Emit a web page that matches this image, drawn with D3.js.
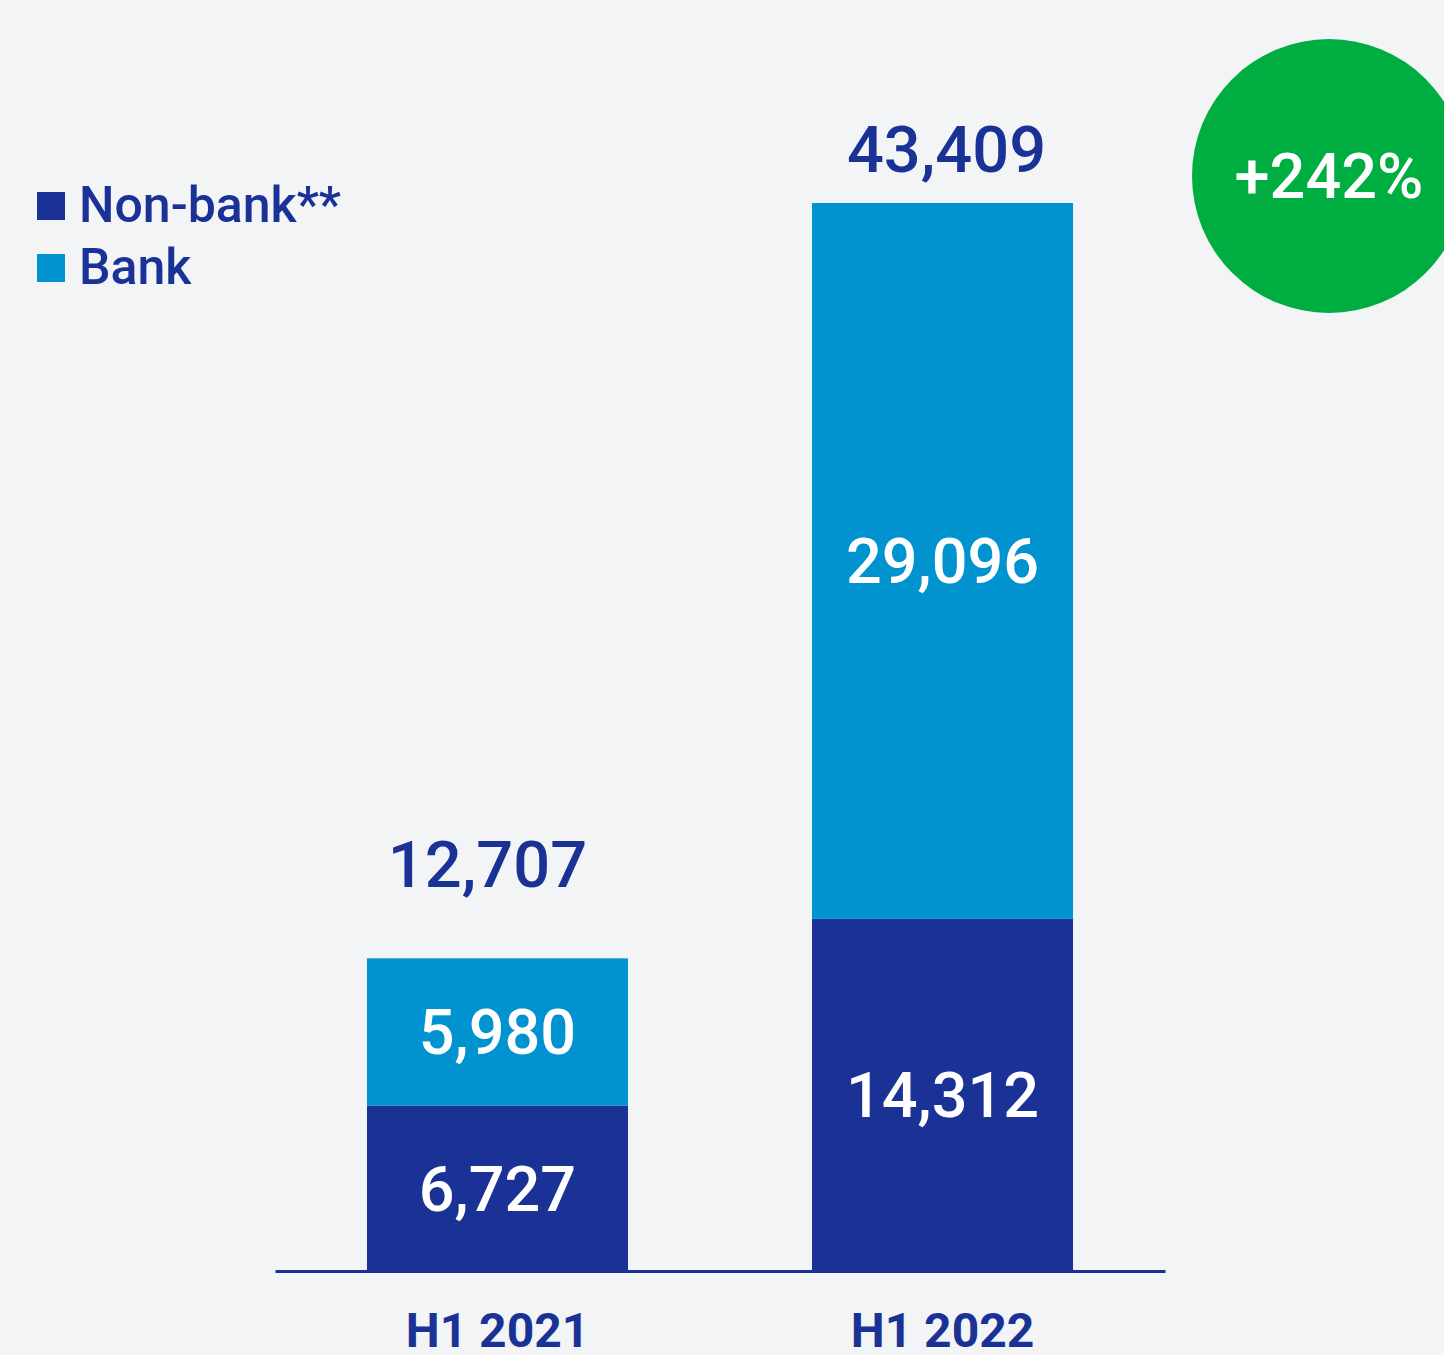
<!DOCTYPE html>
<html>
<head>
<meta charset="utf-8">
<script src="https://cdn.jsdelivr.net/npm/d3@7"></script>
<style>
  html, body { margin: 0; padding: 0; background: #f2f4f6; }
  svg { display: block; font-family: Roboto, "Noto Sans", sans-serif; }
</style>
</head>
<body>
<svg id="chart" width="1444" height="1355"></svg>
<script>
// Half-year periods and the two stacked segments (bottom first)
const periods = ["H1 2021", "H1 2022"];
const nonBank = [6727, 14312];
const bank = [5980, 29096];
// Reported totals (as published, rounded independently of the segments)
const totals = [12707, 43409];
const seriesNames = ["Non-bank**", "Bank"];
const growthLabel = "+242%";

const DARK = "#1a3296";
const LIGHT = "#0093d0";
const GREEN = "#00ad41";

const width = 1444, height = 1355;
const svg = d3.select("#chart");

svg.append("rect").attr("width", width).attr("height", height).attr("fill", "#f2f4f6");

const rows = periods.map((p, i) => ({ period: p, nonBank: nonBank[i], bank: totals[i] - nonBank[i], bankLabel: bank[i] }));

const stack = d3.stack().keys(["nonBank", "bank"]);
const layers = stack(rows);

const x = d3.scaleBand()
  .domain(periods)
  .range([275, 1165])
  .paddingInner(0.4135)
  .paddingOuter(0.2067);

const y = d3.scaleLinear()
  .domain([0, d3.max(totals)])
  .range([1271, 203]);

const colors = { nonBank: DARK, bank: LIGHT };

// Stacked bars
const g = svg.append("g");
layers.forEach(layer => {
  g.selectAll(null)
    .data(layer)
    .join("rect")
    .attr("x", d => x(d.data.period))
    .attr("width", x.bandwidth())
    .attr("y", d => y(d[1]))
    .attr("height", d => y(d[0]) - y(d[1]))
    .attr("fill", colors[layer.key]);
});

const fmt = d3.format(",");

// Segment values, centred inside each segment
const innerSize = 63;
layers.forEach(layer => {
  g.selectAll(null)
    .data(layer)
    .join("text")
    .attr("x", d => x(d.data.period) + x.bandwidth() / 2)
    .attr("y", d => (y(d[0]) + y(d[1])) / 2 + innerSize * 0.355)
    .attr("text-anchor", "middle")
    .attr("fill", "#ffffff")
    .attr("font-size", innerSize)
    .attr("font-weight", 500)
    .text(d => fmt(layer.key === "bank" ? d.data.bankLabel : d.data.nonBank));
});

// Totals above the bars
const totalGap = [71, 31];
const totalShift = [-10, 4];
g.selectAll(null)
  .data(rows)
  .join("text")
  .attr("x", (d, i) => x(d.period) + x.bandwidth() / 2 + totalShift[i])
  .attr("y", (d, i) => y(totals[i]) - totalGap[i])
  .attr("text-anchor", "middle")
  .attr("fill", DARK)
  .attr("font-size", 65)
  .attr("font-weight", 500)
  .text((d, i) => fmt(totals[i]));

// Baseline axis with period labels
const axis = d3.axisBottom(x).tickSize(0).tickPadding(0);
const axisG = svg.append("g").attr("transform", "translate(0,1271)").call(axis);
axisG.select(".domain").attr("stroke", DARK).attr("stroke-width", 3);
axisG.selectAll(".tick text")
  .attr("y", 76)
  .attr("dy", 0)
  .attr("fill", DARK)
  .attr("font-size", 48)
  .attr("font-weight", 700)
  .attr("font-family", "Roboto, sans-serif");

// Legend
const legendKeys = ["nonBank", "bank"];
const legend = svg.append("g");
legendKeys.forEach((k, i) => {
  const row = legend.append("g").attr("transform", `translate(37,${192 + i * 62})`);
  row.append("rect").attr("width", 28).attr("height", 28).attr("fill", colors[k]);
  row.append("text")
    .attr("x", 42)
    .attr("y", 30)
    .attr("fill", DARK)
    .attr("font-size", 50)
    .attr("font-weight", 500)
    .text(seriesNames[i]);
});

// Growth badge
const badge = svg.append("g").attr("transform", "translate(1329,176)");
badge.append("circle").attr("r", 137).attr("fill", GREEN);
badge.append("text")
  .attr("y", 22)
  .attr("text-anchor", "middle")
  .attr("fill", "#ffffff")
  .attr("font-size", 63)
  .attr("font-weight", 500)
  .text(growthLabel);
</script>
</body>
</html>
